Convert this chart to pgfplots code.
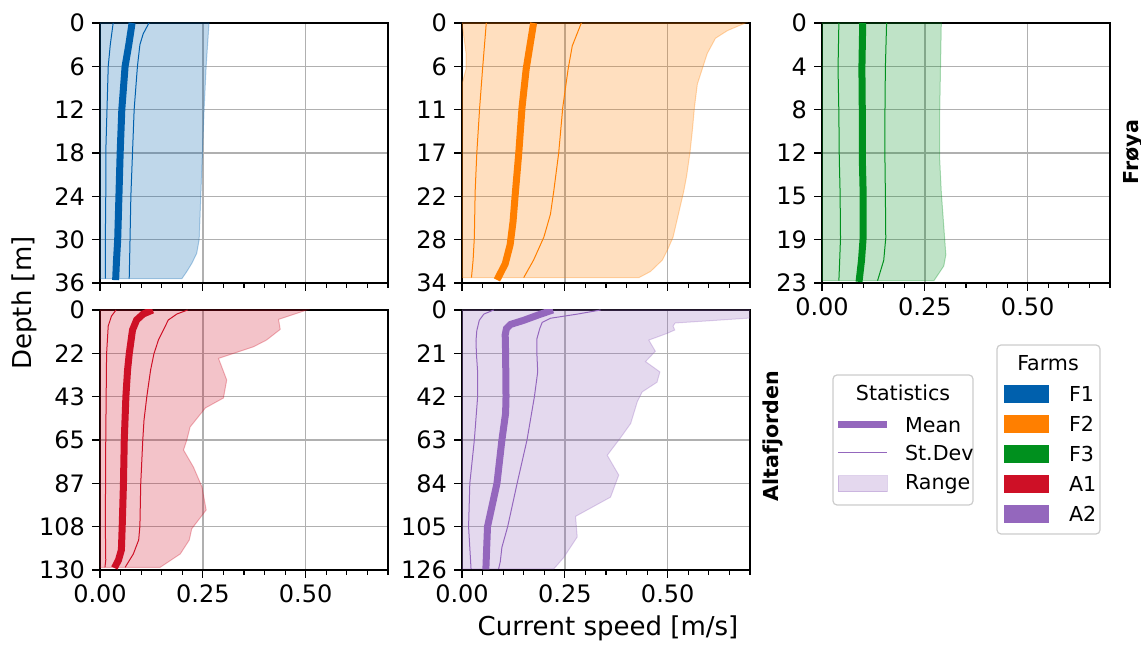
\documentclass[border=0pt]{standalone}
\usepackage{fontspec}
\setmainfont{DejaVu Sans}
\usepackage{pgfplots}
\pgfplotsset{compat=1.18}

\definecolor{cF1}{HTML}{0060AD}
\definecolor{cF2}{HTML}{FF7F00}
\definecolor{cF3}{HTML}{00901E}
\definecolor{cA1}{HTML}{CE1026}
\definecolor{cA2}{HTML}{9467BD}

\tikzset{rng/.style={fill opacity=0.25, draw opacity=0.3, line width=0.5pt}}
\pgfplotsset{
  panel/.style={
    scale only axis, width=144pt, height=130pt, anchor=south west,
    y dir=reverse, xmin=0, xmax=0.7,
    xtick={0,0.25,0.5},
    minor xtick={0.05,0.1,0.15,0.2,0.3,0.35,0.4,0.45,0.55,0.6,0.65,0.7},
    xticklabels={0.00,0.25,0.50},
    grid=major, major grid style={draw=black!31, line width=0.75pt},
    tick align=outside, xtick pos=bottom, ytick pos=left,
    major tick length=4pt, minor tick length=2.5pt,
    every tick/.style={black, line width=0.6pt},
    axis line style={line width=0.7pt},
    ticklabel style={font=\fontsize{12}{14}\selectfont},
    /pgf/number format/assume math mode=true,
  },
  mean/.style={line width=3.5pt},
  sd/.style={line width=0.5pt},
}

\begin{document}
\begin{tikzpicture}
\useasboundingbox (0,0) rectangle (570.5pt,323pt);

% ---------------- F1 ----------------
\begin{axis}[panel, at={(50pt,181.5pt)}, ymin=0, ymax=36,
  ytick={0,6,12,18,24,30,36}, yticklabels={0,6,12,18,24,30,36}, xticklabels={}]
\addplot[rng, fill=cF1, draw=cF1] coordinates {
 (0,0) (0.265,0) (0.258,6) (0.253,12) (0.249,18) (0.245,24) (0.241,30)
 (0.235,31.9) (0.223,33.3) (0.210,34.5) (0.199,35.4) (0,35.4)} -- cycle;
\addplot[sd, cF1] coordinates {(0.032,0) (0.025,3) (0.020,6) (0.017,12) (0.014,18) (0.014,24) (0.013,30) (0.013,35.4)};
\addplot[sd, cF1] coordinates {(0.119,0) (0.105,1.5) (0.097,3) (0.091,6) (0.083,12) (0.079,18) (0.075,24) (0.073,30) (0.071,35.4)};
\addplot[mean, cF1] coordinates {(0.078,0) (0.070,3) (0.061,6) (0.053,12) (0.049,18) (0.046,24) (0.043,30) (0.040,33) (0.038,35.6)};
\end{axis}

% ---------------- F2 ----------------
\begin{axis}[panel, at={(231pt,181.5pt)}, ymin=0, ymax=34,
  ytick={0,5.6667,11.3333,17,22.6667,28.3333,34}, yticklabels={0,6,11,17,22,28,34}, xticklabels={}]
\addplot[rng, fill=cF2, draw=cF2] coordinates {
 (0,0) (0.689,0) (0.645,1) (0.616,2) (0.596,4) (0.584,6) (0.572,8) (0.565,11) (0.560,14)
 (0.554,17) (0.546,20) (0.539,22) (0.526,25) (0.513,28) (0.501,29.5) (0.487,31) (0.458,32.5)
 (0.430,33.3) (0,33.3) (0,8) (0.01,6) (0.01,4) (0.005,2)} -- cycle;
\addplot[sd, cF2] coordinates {(0.059,0) (0.050,6) (0.043,11) (0.036,17) (0.032,22) (0.030,28) (0.027,31) (0.023,33.3)};
\addplot[sd, cF2] coordinates {(0.290,0) (0.268,3) (0.258,6) (0.245,11) (0.235,17) (0.223,22) (0.215,25) (0.199,28) (0.174,31) (0.150,33.3)};
\addplot[mean, cF2] coordinates {(0.174,0) (0.165,3) (0.156,6) (0.146,11) (0.138,17) (0.130,22) (0.124,26) (0.117,29) (0.105,31.5) (0.085,33.6)};
\end{axis}

% ---------------- F3 ----------------
\begin{axis}[panel, at={(411pt,181.5pt)}, ymin=0, ymax=23,
  ytick={0,3.8333,7.6667,11.5,15.3333,19.1667,23}, yticklabels={0,4,8,12,15,19,23}]
\addplot[rng, fill=cF3, draw=cF3] coordinates {
 (0,0) (0.290,0) (0.288,4) (0.286,8) (0.286,12) (0.290,15) (0.298,19) (0.301,20.5)
 (0.296,21.5) (0.272,22.8) (0,22.8)} -- cycle;
\addplot[sd, cF3] coordinates {(0.041,0) (0.039,4) (0.041,8) (0.042,12) (0.044,15) (0.045,19) (0.043,21) (0.041,22.8)};
\addplot[sd, cF3] coordinates {(0.157,0) (0.154,4) (0.153,8) (0.153,12) (0.154,15) (0.155,19) (0.150,21) (0.135,22.8)};
\addplot[mean, cF3] coordinates {(0.099,0) (0.097,4) (0.098,8) (0.098,12) (0.100,15) (0.100,19) (0.096,21) (0.090,22.9)};
\end{axis}

% ---------------- A1 ----------------
\begin{axis}[panel, at={(50pt,38pt)}, ymin=0, ymax=130,
  ytick={0,21.6667,43.3333,65,86.6667,108.3333,130}, yticklabels={0,22,43,65,87,108,130}]
\addplot[rng, fill=cA1, draw=cA1] coordinates {
 (0,0) (0.503,0) (0.434,4.7) (0.438,9.7) (0.405,15) (0.373,18.4) (0.288,24.2) (0.308,35)
 (0.300,44) (0.256,49) (0.219,58.5) (0.211,65) (0.203,70) (0.227,78.5) (0.248,88.5)
 (0.258,100) (0.223,109.4) (0.217,115) (0.195,122) (0.146,128.7) (0,128.7)} -- cycle;
\addplot[sd, cA1] coordinates {(0.039,0) (0.028,3) (0.020,8) (0.016,22) (0.015,43) (0.014,65) (0.013,108) (0.014,125) (0.012,128.7)};
\addplot[sd, cA1] coordinates {(0.213,0) (0.187,2) (0.166,5) (0.154,10) (0.142,15) (0.131,22) (0.123,30) (0.114,43) (0.107,55) (0.104,65) (0.099,87) (0.097,108) (0.094,115) (0.081,122) (0.061,128.7)};
\addplot[mean, cA1] coordinates {(0.128,0) (0.105,2) (0.089,5) (0.079,10) (0.071,22) (0.067,30) (0.063,43) (0.059,65) (0.057,87) (0.054,108) (0.052,120) (0.045,125) (0.035,129)};
\end{axis}

% ---------------- A2 ----------------
\begin{axis}[panel, at={(231pt,38pt)}, ymin=0, ymax=126,
  ytick={0,21,42,63,84,105,126}, yticklabels={0,21,42,63,84,105,126}]
\addplot[rng, fill=cA2, draw=cA2] coordinates {
 (0,0) (0.95,0) (0.85,2) (0.70,3.9) (0.58,5.5) (0.518,6.3) (0.513,7.8) (0.517,9.7) (0.499,11.3)
 (0.454,14.6) (0.470,20) (0.446,25) (0.481,30) (0.474,35) (0.438,39.7) (0.426,44.5) (0.410,55)
 (0.385,62) (0.353,70.4) (0.381,80) (0.361,90.7) (0.276,100) (0.280,110) (0.247,120)
 (0.223,125.5) (0,125.5)} -- cycle;
\addplot[sd, cA2] coordinates {(0.077,0) (0.053,2) (0.042,5) (0.036,10) (0.034,15) (0.035,21) (0.038,30) (0.038,42) (0.030,63) (0.019,84) (0.016,105) (0.022,125.5)};
\addplot[sd, cA2] coordinates {(0.337,0) (0.280,2) (0.215,4) (0.195,6) (0.189,9) (0.182,14) (0.182,21) (0.184,30) (0.176,42) (0.158,63) (0.134,84) (0.111,105) (0.097,115) (0.093,122) (0.089,125.5)};
\addplot[mean, cA2] coordinates {(0.221,0) (0.191,2) (0.150,5) (0.118,7) (0.108,9) (0.105,12) (0.106,21) (0.107,42) (0.106,50) (0.097,63) (0.085,84) (0.062,105) (0.058,125.7)};
\end{axis}

% ---------------- labels ----------------
\node[rotate=90, font=\fontsize{13}{15}\selectfont] at (12pt,171.5pt) {Depth [m]};
\node[font=\fontsize{13}{15}\selectfont] at (304pt,9pt) {Current speed [m/s]};
\node[rotate=90, font=\fontsize{10.3}{12}\selectfont\bfseries] at (566.5pt,247pt) {Frøya};
\node[rotate=90, font=\fontsize{10.3}{12}\selectfont\bfseries] at (386.5pt,105pt) {Altafjorden};

% ---------------- legends ----------------
\begin{scope}[font=\fontsize{10.3}{12}\selectfont]
\draw[black!20, line width=0.6pt, rounded corners=2pt, fill=white] (416.5pt,70.5pt) rectangle (486.5pt,135.5pt);
\node at (451.5pt,126.5pt) {Statistics};
\draw[cA2, line width=3.5pt] (419pt,110.5pt) -- (443.5pt,110.5pt);
\draw[cA2, line width=0.5pt] (419pt,96.5pt) -- (443.5pt,96.5pt);
\draw[rng, draw=cA2, fill=cA2] (419pt,77pt) rectangle (443.5pt,85pt);
\node[anchor=west] at (449pt,110.5pt) {Mean};
\node[anchor=west] at (449pt,96.5pt) {St.Dev};
\node[anchor=west] at (449pt,81pt) {Range};

\draw[black!20, line width=0.6pt, rounded corners=2pt, fill=white] (498.5pt,56pt) rectangle (550pt,150.5pt);
\node at (524pt,141.5pt) {Farms};
\foreach \c/\n/\y in {cF1/F1/126, cF2/F2/111, cF3/F3/96, cA1/A1/81, cA2/A2/66} {
  \fill[\c] (502pt,\y pt-4.5pt) rectangle (524.5pt,\y pt+4.5pt);
  \node[anchor=west] at (531pt,\y pt) {\n};
}
\end{scope}
\end{tikzpicture}
\end{document}
